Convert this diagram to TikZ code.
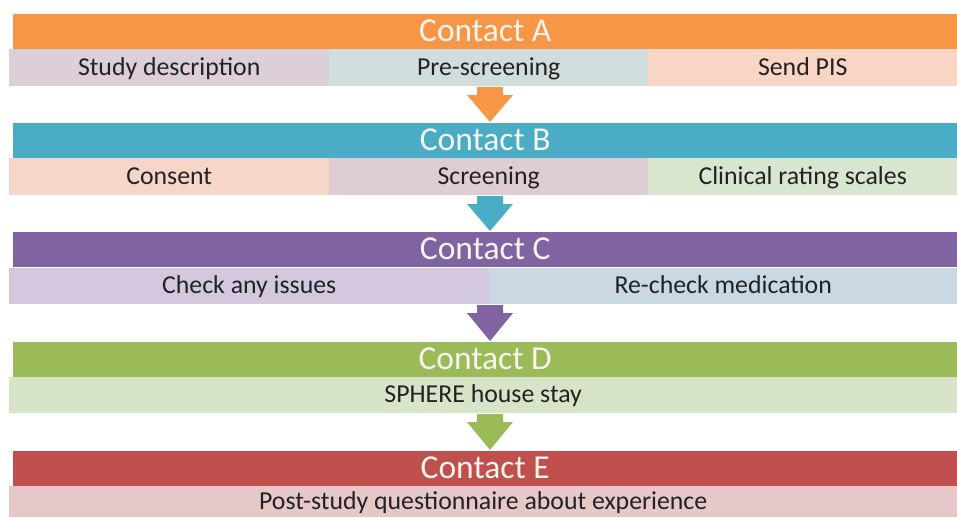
\documentclass[tikz,border=0pt]{standalone}
\usepackage{fontspec}
\setmainfont{Carlito}
\usetikzlibrary{calc}
\definecolor{cA}{HTML}{F79646}
\definecolor{cB}{HTML}{4BACC6}
\definecolor{cC}{HTML}{8064A2}
\definecolor{cD}{HTML}{9BBB59}
\definecolor{cE}{HTML}{C0504D}
\definecolor{sLilac}{HTML}{DCCFD8}
\definecolor{sTeal}{HTML}{D0DDDC}
\definecolor{sPeach}{HTML}{F9D5C5}
\definecolor{sPeachB}{HTML}{F6D6C8}
\definecolor{sPink}{HTML}{DECDD5}
\definecolor{sGreen}{HTML}{D8E6D0}
\definecolor{sPurple}{HTML}{D3C8DE}
\definecolor{sBlue}{HTML}{C9D8E3}
\definecolor{sGreenD}{HTML}{D8E4C8}
\definecolor{sRed}{HTML}{E6C8C9}
\definecolor{hdrtext}{HTML}{F8F4EE}
\definecolor{subtext}{HTML}{222222}
\tikzset{
  hdr/.style={anchor=north west, inner sep=0pt, minimum height=35pt, minimum width=944pt,
    text=hdrtext, font=\fontsize{33.5}{36}\selectfont, text height=22pt, text depth=3pt},
  sub/.style={anchor=north west, inner sep=0pt, minimum height=37pt,
    text=subtext, font=\fontsize{25.8}{28}\selectfont, text height=18pt, text depth=3pt},
}
\newcommand{\blockarrow}[3]{%
  \fill[#3] ($(#1)+(-13,0)$) -- ($(#1)+(13,0)$) -- ($(#1)+(13,8)$) -- ($(#1)+(23,8)$)
    -- (#2) -- ($(#1)+(-23,8)$) -- ($(#1)+(-13,8)$) -- cycle;}
\begin{document}
\begin{tikzpicture}[x=1pt,y=-1pt]
\useasboundingbox[fill=white] (0,0) rectangle (957,517);
% Contact A
\node[hdr, fill=cA] (A) at (13,14) {Contact A};
\node[sub, fill=sLilac, minimum width=320pt] (a1) at (9,49) {Study description};
\node[sub, fill=sTeal, minimum width=319pt] (a2) at (329,49) {Pre-screening};
\node[sub, fill=sPeach, minimum width=309pt] (a3) at (648,49) {Send PIS};
% Contact B
\node[hdr, fill=cB] (B) at (13,123) {Contact B};
\node[sub, fill=sPeachB, minimum width=320pt] (b1) at (9,158) {Consent};
\node[sub, fill=sPink, minimum width=319pt] (b2) at (329,158) {Screening};
\node[sub, fill=sGreen, minimum width=309pt] (b3) at (648,158) {Clinical rating scales};
% Contact C
\node[hdr, fill=cC] (C) at (13,232) {Contact C};
\node[sub, fill=sPurple, minimum width=480pt, minimum height=36pt] (c1) at (9,268) {Check any issues};
\node[sub, fill=sBlue, minimum width=468pt, minimum height=36pt] (c2) at (489,268) {Re-check medication};
% Contact D
\node[hdr, fill=cD] (D) at (13,342) {Contact D};
\node[sub, fill=sGreenD, minimum width=948pt, minimum height=36pt] (d1) at (9,377) {SPHERE house stay};
% Contact E
\node[hdr, fill=cE] (E) at (13,451) {Contact E};
\node[sub, fill=sRed, minimum width=948pt, minimum height=31pt] (e1) at (9,486) {Post-study questionnaire about experience};
% arrow anchors
\coordinate (tA) at (490,87);  \coordinate (hB) at (490,122);
\coordinate (tB) at (490,196); \coordinate (hC) at (490,231);
\coordinate (tC) at (490,305); \coordinate (hD) at (490,341);
\coordinate (tD) at (490,414); \coordinate (hE) at (490,450);
\blockarrow{tA}{hB}{cA}
\blockarrow{tB}{hC}{cB}
\blockarrow{tC}{hD}{cC}
\blockarrow{tD}{hE}{cD}
\end{tikzpicture}
\end{document}
